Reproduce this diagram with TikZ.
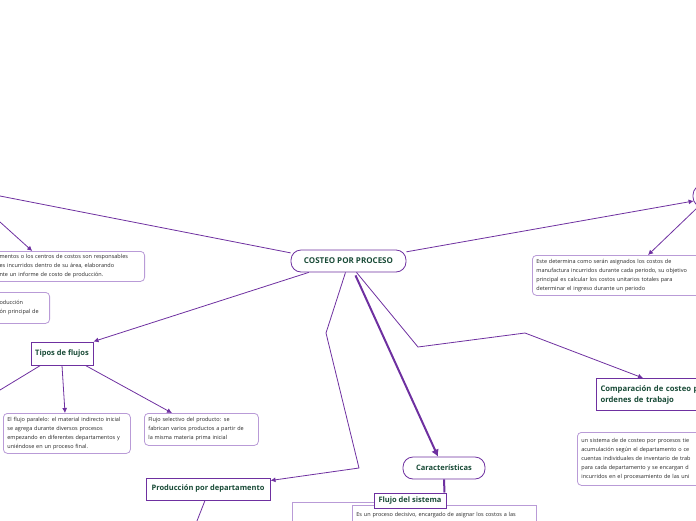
\documentclass[tikz,border=0pt]{standalone}
\usepackage{fontspec}
\setmainfont{Open Sans}
\usetikzlibrary{arrows.meta,calc}
\definecolor{ln}{RGB}{110,48,160}
\definecolor{lbox}{RGB}{185,155,215}
\definecolor{hd}{RGB}{25,75,55}
\definecolor{bt}{RGB}{40,40,40}
\begin{document}
\begin{tikzpicture}[x=1pt,y=-1pt,
 conn/.style={draw=ln, line width=0.8pt},
 arr/.style={conn, -{Latex[length=5pt,width=5pt]}},
 thickarr/.style={draw=ln, line width=2pt, -{Latex[length=7pt,width=8pt]}},
 textbox/.style={draw=lbox, line width=0.8pt, rounded corners=4pt, fill=white, text=bt, font=\fontsize{5.5}{9}\selectfont, align=left, inner xsep=4pt, inner ysep=3pt},
 headbox/.style={draw=ln, line width=1pt, fill=white, text=hd, font=\fontsize{7.5}{10.5}\selectfont\bfseries, inner sep=2pt},
 pill/.style={headbox, rounded corners=10pt, line width=0.8pt},
]
\useasboundingbox (0,0) rectangle (696,520);
\clip (0,0) rectangle (696,520);

% nodes
\node[pill, minimum width=115, minimum height=22, font=\fontsize{8}{10}\selectfont\bfseries] (cp) at (348.5,261) {COSTEO POR PROCESO};
\node[pill, minimum width=46, minimum height=22] (tr) at (716,196) {};
\node[textbox, anchor=north east, text width=141, minimum height=30] (bx1) at (145,251) {mentos o los centros de costos son responsables\\es incurridos dentro de su área, elaborando\\nte un informe de costo de producción.};
\node[textbox, anchor=north east, text width=46, minimum height=31] (bx2) at (50,292) {oducción\\ón principal de};
\node[headbox, minimum width=62, minimum height=23] (tf) at (62,353.5) {Tipos de flujos};
\node[textbox, anchor=north west, text width=119, minimum height=40] (bp) at (3,413) {El flujo paralelo: el material indirecto inicial\\se agrega durante diversos procesos\\empezando en diferentes departamentos y\\uniéndose en un proceso final.};
\node[textbox, anchor=north west, text width=106, minimum height=32] (bs) at (144,413) {Flujo selectivo del producto: se\\fabrican varios productos a partir de\\la misma materia prima inicial};
\node[textbox, anchor=north west, text width=170, minimum height=40] (be) at (532,255) {Este determina como serán asignados los costos de\\manufactura incurridos durante cada periodo, su objetivo\\principal es calcular los costos unitarios totales para\\determinar el ingreso durante un periodo};
\node[headbox, anchor=north west, text width=140, align=left, minimum height=32, inner xsep=4pt, font=\fontsize{7.7}{11}\selectfont\bfseries] (cmp) at (596,378) {Comparación de costeo p\\ordenes de trabajo};
\node[textbox, anchor=north west, text width=150, minimum height=53] (bsy) at (577,432) {un sistema de de costeo por procesos tie\\acumulación según el departamento o ce\\cuentas individuales de inventario de trab\\para cada departamento y se encargan d\\incurridos en el procesamiento de las uni};
\node[pill, minimum width=82, minimum height=22] (car) at (444,468) {Características};
\node[headbox, minimum width=124, minimum height=22] (ppd) at (208,489) {Producción por departamento};
\node[draw=lbox, line width=0.8pt, anchor=north west, minimum width=120, minimum height=60] (outer) at (292,502) {};
\node[textbox, rounded corners=0pt, anchor=north west, text width=176, minimum height=30, align=left, inner ysep=2pt] (es) at (352,505) {Es un proceso decisivo, encargado de asignar los costos a las\\\strut};
\node[headbox, minimum width=72, minimum height=15, inner sep=1pt] (fs) at (410,500.5) {Flujo del sistema};

% free ends
\coordinate (L1) at (0,196);
\coordinate (L2) at (0,222);
\coordinate (L3) at (0,390);
\coordinate (L4) at (195,526);
\coordinate (k1) at (418,347);
\coordinate (k2) at (525,333);
\coordinate (k3) at (326,333);
\coordinate (k4) at (359,468);

% connectors
\draw[conn] (L1) -- (cp.172);
\draw[arr] (L2) -- ($(bx1.north west)+(37,0)$);
\draw[arr] (cp.196) -- (tf.north east);
\draw[conn] (tf.209) -- (L3);
\draw[arr] (tf.south) -- ($(bp.north west)+(62,0)$);
\draw[arr] (tf.333) -- ($(bs.north west)+(28,0)$);
\draw[arr] (cp.9) -- ($(tr.west)+(1,5)$);
\draw[arr] ($(tr.south west)+(5,0)$) -- ($(be.north west)+(116,0)$);
\draw[arr] ($(cp.south)+(8,0)$) -- (k1) -- (k2) -- ($(cmp.north west)+(47,0)$);
\draw[thickarr] ($(cp.south)+(7,3)$) -- ($(car.north)+(-6,0)$);
\draw[arr] ($(cp.south)+(-3,0)$) -- (k3) -- (k4) -- ($(ppd.north east)+(0,3)$);
\draw[conn] ($(ppd.south)+(-3,0)$) -- (L4);
\draw[draw=ln, line width=2pt] (car.south) -- ($(fs.north east)+(-2,0)$);
\end{tikzpicture}
\end{document}
